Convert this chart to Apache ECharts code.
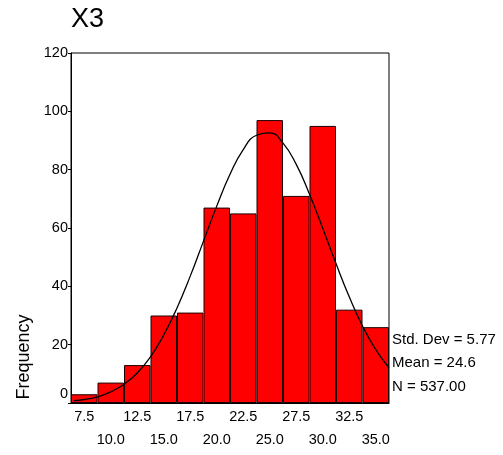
<!DOCTYPE html>
<html>
<head>
<meta charset="utf-8">
<script src="https://cdn.jsdelivr.net/npm/echarts@6/dist/echarts.min.js"></script>
<style>
html,body{margin:0;padding:0;background:#fff;}
#c{width:503px;height:455px;}
</style>
</head>
<body>
<div id="c"></div>
<script>
var categories = ['7.5','10.0','12.5','15.0','17.5','20.0','22.5','25.0','27.5','30.0','32.5','35.0'];
var frequency = [3, 7, 13, 30, 31, 67, 65, 97, 71, 95, 32, 26];
var curveX = [6.5, 7.5, 8.75, 10, 11.25, 12.5, 13.75, 15, 16.25, 17.5, 18.75, 20, 21.25, 22.5, 23.75, 25, 26.25, 27.5, 28.75, 30, 31.25, 32.5, 33.75, 35, 36.25];
var curveY = [0.8, 1.2, 2.1, 3.8, 6.4, 10.3, 15.8, 23.3, 32.6, 43.5, 55.5, 67.5, 78.4, 86.9, 91.8, 92.6, 89.1, 81.8, 71.6, 59.9, 47.8, 36.4, 26.4, 18.3, 12.1];
var yTicks = [0, 20, 40, 60, 80, 100, 120];
var statsLines = ['Std. Dev = 5.77', 'Mean = 24.6', 'N = 537.00'];
var titleText = 'X3';
var yName = 'Frequency';

var FONT = '"Liberation Sans", Arial, sans-serif';
var curveData = curveX.map(function (x, i) { return [x, curveY[i]]; });

var chart = echarts.init(document.getElementById('c'), null, {renderer: 'canvas'});
chart.setOption({
  animation: false,
  backgroundColor: '#fff',
  grid: {
    left: 71, right: 114, top: 53, bottom: 52,
    show: true, borderColor: '#000', borderWidth: 1, backgroundColor: 'transparent'
  },
  xAxis: [{
    type: 'category',
    data: categories,
    boundaryGap: true,
    axisLine: {lineStyle: {color: '#000', width: 1}},
    axisTick: {alignWithLabel: true, length: 4, lineStyle: {color: '#000'}},
    axisLabel: {
      interval: 0,
      margin: 2,
      color: '#000',
      fontFamily: FONT,
      fontSize: 14.5,
      lineHeight: 23,
      formatter: function (v, i) { return i % 2 === 1 ? '\n' + v : v; }
    },
    splitLine: {show: false}
  }, {
    type: 'value',
    min: 6.25,
    max: 36.25,
    show: false
  }],
  yAxis: {
    type: 'value',
    min: yTicks[0],
    max: yTicks[yTicks.length - 1],
    interval: yTicks[1] - yTicks[0],
    axisLine: {show: true, lineStyle: {color: '#000', width: 1}},
    axisTick: {show: true, length: 3, lineStyle: {color: '#000'}},
    splitLine: {show: false},
    axisLabel: {
      margin: 3,
      color: '#000',
      fontFamily: FONT,
      fontSize: 14.5,
      formatter: function (v) { return v === 0 ? '{z|0}' : String(v); },
      rich: {z: {fontFamily: FONT, fontSize: 14.5, color: '#000', padding: [0, 0, 18, 0]}}
    }
  },
  series: [{
    type: 'bar',
    xAxisIndex: 0,
    data: frequency,
    barCategoryGap: 0,
    itemStyle: {color: '#ff0000', borderColor: '#1a0000', borderWidth: 1}
  }, {
    type: 'line',
    xAxisIndex: 1,
    data: curveData,
    smooth: true,
    showSymbol: false,
    symbol: 'none',
    lineStyle: {color: '#000', width: 1.3},
    z: 5
  }],
  graphic: [
    {type: 'text', left: 71, top: 6, style: {text: titleText, fontFamily: FONT, fontSize: 27, fill: '#000'}},
    {type: 'text', x: 24, y: 357, rotation: Math.PI / 2,
      style: {text: yName, fontFamily: FONT, fontSize: 18, fill: '#000', textAlign: 'center', textVerticalAlign: 'middle'}},
    {type: 'text', x: 392, y: 340, style: {text: statsLines[0], fontFamily: FONT, fontSize: 15, fill: '#000', textVerticalAlign: 'middle'}},
    {type: 'text', x: 392, y: 363, style: {text: statsLines[1], fontFamily: FONT, fontSize: 15, fill: '#000', textVerticalAlign: 'middle'}},
    {type: 'text', x: 392, y: 387, style: {text: statsLines[2], fontFamily: FONT, fontSize: 15, fill: '#000', textVerticalAlign: 'middle'}}
  ]
});
</script>
</body>
</html>
